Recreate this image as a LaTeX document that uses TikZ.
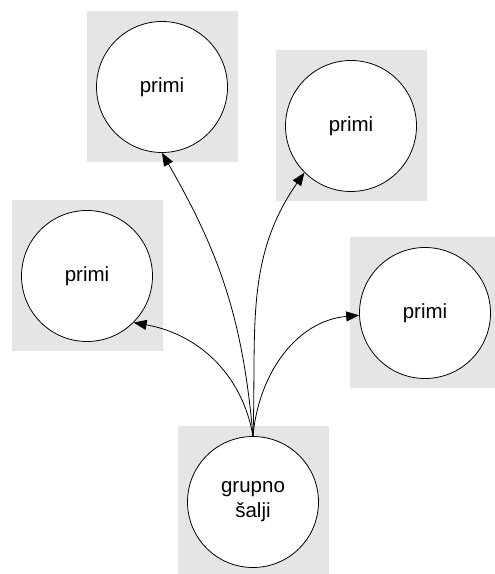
\documentclass[tikz,border=0pt]{standalone}
\usepackage{fontspec}
\setmainfont{Liberation Sans}
\usetikzlibrary{arrows.meta}
\tikzset{
  state/.style={circle, draw, line width=0.8pt, fill=white, minimum size=131pt, inner sep=0pt,
    font=\fontsize{20.5}{25}\selectfont, align=center},
  box/.style={fill=black!10, minimum size=151pt, inner sep=0pt},
  link/.style={-{Triangle[length=13pt,width=10pt]}, line width=0.8pt}
}
\begin{document}
\begin{tikzpicture}[x=1pt,y=1pt]
  \useasboundingbox (0,0) rectangle (495,574);
  \def\ps{(162,487),(351,448),(87,298),(425,261)}
  %         1          2          3         4
  \foreach \p [count=\i from 1] in \ps {\node[box] (b\i) at \p {};}
  \node[box] (b5) at (253,72) {};
  \foreach \p [count=\i from 1] in \ps {\node[state] (p\i) at \p {primi};}
  \node[state] (g) at (253,72) {grupno\\šalji};
  \draw[link] (g.north) to[out=95,in=-60] (p1.south);
  \draw[link] (g.north) to[out=88,in=235] (p2.225);
  \draw[link] (g.north) to[out=100,in=-10] (p3.-45);
  \draw[link] (g.north) to[out=85,in=185] (p4.182);
\end{tikzpicture}
\end{document}
